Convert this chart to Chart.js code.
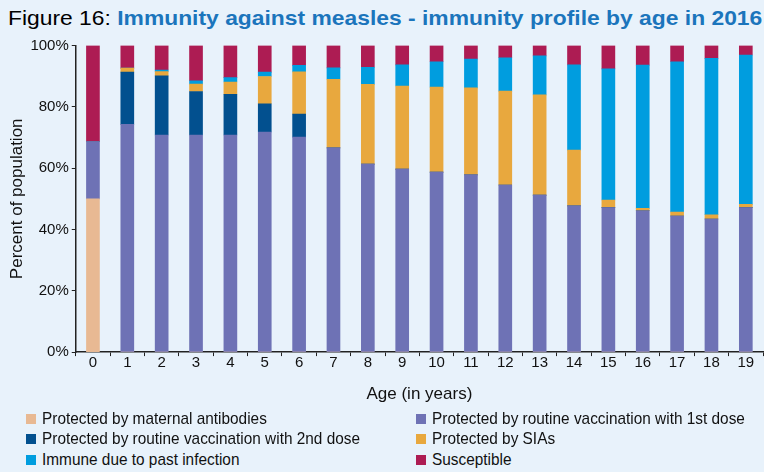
<!DOCTYPE html>
<html>
<head>
<meta charset="utf-8">
<script src="https://cdn.jsdelivr.net/npm/chart.js@4.4.0/dist/chart.umd.min.js"></script>
<style>
  body { margin: 0; background: #e8f2fb; font-family: 'Liberation Sans', Arial, sans-serif; }
  #page { position: relative; width: 764px; height: 472px; overflow: hidden; }
  #title { position: absolute; left: 8px; top: 6px; font-size: 21px; color: #000; white-space: nowrap; transform-origin: left top; }
  #title b { color: #1b75bc; }
  #wrap { position: absolute; left: 0; top: 30px; width: 764px; height: 380px; }
  .item { position: absolute; height: 20px; line-height: 20px; font-size: 17px; color: #111; white-space: nowrap; }
  .item .box { position: absolute; left: 0; top: 5px; width: 10px; height: 10px; }
  .item .txt { position: absolute; left: 16px; top: 0; transform-origin: left center; }
</style>
</head>
<body>
<div id="page">
  <div id="title">Figure 16: <b>Immunity against measles - immunity profile by age in 2016</b></div>
  <div id="wrap"><canvas id="chart"></canvas></div>
</div>
<script>
const ages = ["0","1","2","3","4","5","6","7","8","9","10","11","12","13","14","15","16","17","18","19"];
const yTicks = [0, 20, 40, 60, 80, 100];

const maternal = [50, 0, 0, 0, 0, 0, 0, 0, 0, 0, 0, 0, 0, 0, 0, 0, 0, 0, 0, 0];
const dose1 = [18.7, 74.3, 70.8, 70.8, 70.8, 71.8, 70.1, 66.6, 61.3, 59.7, 58.7, 57.8, 54.5, 51.2, 47.7, 47.1, 46.1, 44.4, 43.4, 47.1];
const dose2 = [0, 17.0, 19.3, 14.2, 13.3, 9.2, 7.5, 0, 0, 0, 0, 0, 0, 0, 0, 0, 0, 0, 0, 0];
const sias = [0, 1.3, 1.4, 2.4, 4.0, 8.9, 13.8, 22.4, 26.0, 27.1, 27.7, 28.4, 30.6, 32.7, 18.2, 2.5, 0.8, 1.3, 1.4, 1.1];
const pastInfection = [0, 0, 0.5, 1.1, 1.4, 1.4, 2.1, 3.7, 5.6, 6.9, 8.3, 9.4, 10.9, 12.7, 27.8, 42.8, 46.7, 49.0, 51.0, 48.7];
const susceptible = [31.3, 7.4, 8.0, 11.5, 10.5, 8.7, 6.5, 7.3, 7.1, 6.3, 5.3, 4.4, 4.0, 3.4, 6.3, 7.6, 6.4, 5.3, 4.2, 3.1];

const font = "'Liberation Sans', Arial, sans-serif";

const series = [
  { label: "Protected by maternal antibodies", data: maternal, color: "#e8b993" },
  { label: "Protected by routine vaccination with 1st dose", data: dose1, color: "#6e72b5" },
  { label: "Protected by routine vaccination with 2nd dose", data: dose2, color: "#02508f" },
  { label: "Protected by SIAs", data: sias, color: "#e8a83e" },
  { label: "Immune due to past infection", data: pastInfection, color: "#009ddf" },
  { label: "Susceptible", data: susceptible, color: "#ad1c53" }
];

const data = {
  labels: ages,
  datasets: series.map(s => ({
    label: s.label,
    data: s.data,
    backgroundColor: s.color,
    borderWidth: 0,
    barThickness: 13
  }))
};

const config = {
  type: "bar",
  data,
  options: {
    responsive: true,
    maintainAspectRatio: false,
    animation: false,
    layout: { padding: { top: 15.5, right: 1, left: 0, bottom: 5 } },
    plugins: {
      legend: { display: false },
      tooltip: { enabled: false }
    },
    scales: {
      x: {
        stacked: true,
        border: { color: "#222", width: 1.5 },
        grid: { drawOnChartArea: false, color: "#222", tickLength: 4, offset: true },
        ticks: { color: "#111", font: { family: font, size: 15 }, padding: -2, maxRotation: 0 },
        title: { display: true, text: "Age (in years)", color: "#111", font: { family: font, size: 17 }, padding: { top: 14.5, bottom: 0 } }
      },
      y: {
        stacked: true,
        min: 0,
        max: 100,
        afterBuildTicks: axis => { axis.ticks = yTicks.map(v => ({ value: v })); },
        border: { color: "#222", width: 1.5 },
        grid: { drawOnChartArea: false, color: "#222", tickLength: 4 },
        ticks: { color: "#111", font: { family: font, size: 15 }, padding: 3, callback: v => v + "%" },
        title: { display: true, text: "Percent of population", color: "#111", font: { family: font, size: 17 }, padding: { top: 7, bottom: 0 } }
      }
    }
  }
};

const chart = new Chart(document.getElementById("chart").getContext("2d"), config);

// squeeze the title to the width it has in the figure
const title = document.getElementById("title");
title.style.transform = "scaleX(" + (754 / title.offsetWidth) + ")";

// legend in two columns, like the figure
const page = document.getElementById("page");
const colX = [26, 416];
const rowY = [409, 429, 450];
const items = series.map((s, i) => {
  const item = document.createElement("div");
  item.className = "item";
  item.style.left = colX[i % 2] + "px";
  item.style.top = rowY[Math.floor(i / 2)] + "px";
  item.innerHTML = '<span class="box" style="background:' + s.color + '"></span><span class="txt">' + s.label + '</span>';
  page.appendChild(item);
  return item.querySelector(".txt");
});
const squeeze = 313 / items[1].offsetWidth;
items.forEach(t => { t.style.transform = "scaleX(" + squeeze + ")"; });
</script>
</body>
</html>
